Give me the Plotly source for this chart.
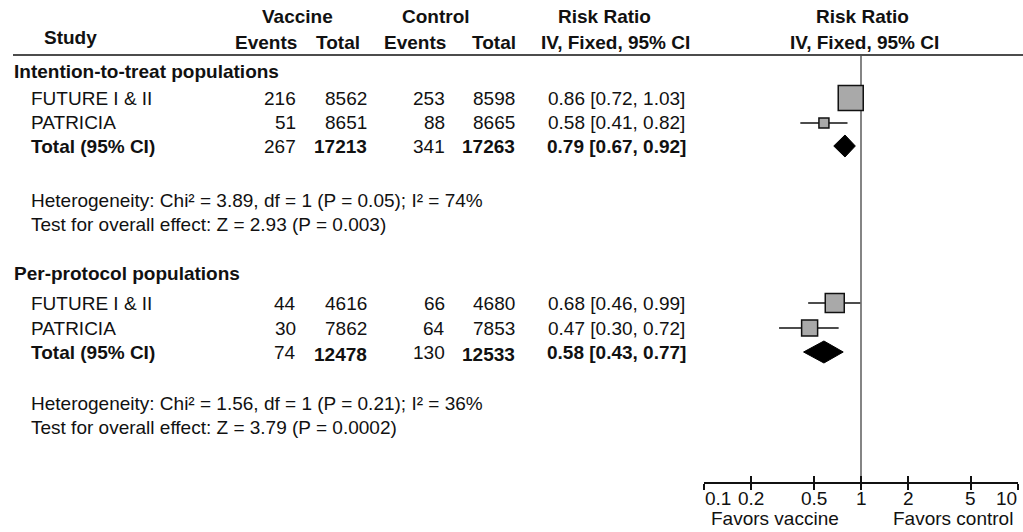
import math
import plotly.graph_objects as go

W, H = 1023, 532

# ---------------- data ----------------
studies = ["FUTURE I & II", "PATRICIA"]

itt_label = "Intention-to-treat populations"
itt_vac_events = [216, 51]
itt_vac_total = [8562, 8651]
itt_ctl_events = [253, 88]
itt_ctl_total = [8598, 8665]
itt_rr = [0.86, 0.58]
itt_lo = [0.72, 0.41]
itt_hi = [1.03, 0.82]
itt_sum_events = [267, 341]
itt_sum_total = [17213, 17263]
itt_sum_rr = [0.79, 0.67, 0.92]
itt_het = "Heterogeneity: Chi² = 3.89, df = 1 (P = 0.05); I² = 74%"
itt_test = "Test for overall effect: Z = 2.93 (P = 0.003)"

pp_label = "Per-protocol populations"
pp_vac_events = [44, 30]
pp_vac_total = [4616, 7862]
pp_ctl_events = [66, 64]
pp_ctl_total = [4680, 7853]
pp_rr = [0.68, 0.47]
pp_lo = [0.46, 0.30]
pp_hi = [0.99, 0.72]
pp_sum_events = [74, 130]
pp_sum_total = [12478, 12533]
pp_sum_rr = [0.58, 0.43, 0.77]
pp_het = "Heterogeneity: Chi² = 1.56, df = 1 (P = 0.21); I² = 36%"
pp_test = "Test for overall effect: Z = 3.79 (P = 0.0002)"

tick_vals = [0.1, 0.2, 0.5, 1, 2, 5, 10]
tick_text = ["0.1", "0.2", "0.5", "1", "2", "5", "10"]
favors_left = "Favors vaccine"
favors_right = "Favors control"

# ---------------- layout / style ----------------
FONT = "Liberation Sans, Arial, sans-serif"
FS = 19
TXT = "#111111"
X_SEC, X_NAME = 13, 30
X_VE, X_VT, X_CE, X_CT, X_RR = 297, 368, 446, 516, 616
AXIS_Y = 482
LINE_Y = 55
X0_PX, X1_PX = 704, 1018
TICKLAB_Y = 498
FAVORS_Y = 518
tick_anchors = ["left"] + ["center"] * 5 + ["right"]

groups = [
    dict(label=itt_label, ve=itt_vac_events, vt=itt_vac_total, ce=itt_ctl_events, ct=itt_ctl_total,
         rr=itt_rr, lo=itt_lo, hi=itt_hi, se=itt_sum_events, st=itt_sum_total, srr=itt_sum_rr,
         het=itt_het, test=itt_test,
         y_head=71, y_rows=[98, 123], y_tot=146, y_het=200, y_test=224, sizes=[25, 10], tot_dy=0),
    dict(label=pp_label, ve=pp_vac_events, vt=pp_vac_total, ce=pp_ctl_events, ct=pp_ctl_total,
         rr=pp_rr, lo=pp_lo, hi=pp_hi, se=pp_sum_events, st=pp_sum_total, srr=pp_sum_rr,
         het=pp_het, test=pp_test,
         y_head=273, y_rows=[303, 328], y_tot=352, y_het=403, y_test=427, sizes=[19, 16], tot_dy=2),
]

fig = go.Figure()


def ann(text, x, y, anchor="left", bold=False, size=FS, color=TXT, xref="paper"):
    fig.add_annotation(
        text=f"<b>{text}</b>" if bold else text,
        x=(x / W) if xref == "paper" else x, y=1 - y / H, xref=xref, yref="paper",
        xanchor=anchor, yanchor="middle", showarrow=False, borderpad=0,
        font=dict(family=FONT, size=size, color=color),
    )


# headers
ann("Vaccine", 297, 16, "center", True)
ann("Control", 436, 16, "center", True)
ann("Risk Ratio", 604, 16, "center", True)
ann("Risk Ratio", 862, 16, "center", True)
ann("Study", 70, 37, "center", True)
ann("Events", 298, 43, "right", True)
ann("Total", 361, 43, "right", True)
ann("Events", 447, 43, "right", True)
ann("Total", 517, 43, "right", True)
ann("IV, Fixed, 95% CI", 615, 43, "center", True)
ann("IV, Fixed, 95% CI", 864, 43, "center", True)

fig.add_shape(type="line", xref="paper", yref="paper",
              x0=X_SEC / W, x1=1.0, y0=1 - LINE_Y / H, y1=1 - LINE_Y / H,
              line=dict(color="#111111", width=1.6))

# vertical line of no effect
fig.add_trace(go.Scatter(x=[1, 1], y=[LINE_Y + 1, AXIS_Y], mode="lines",
                         line=dict(color="#333333", width=1.2), hoverinfo="skip", showlegend=False))

for g in groups:
    ann(g["label"], X_SEC, g["y_head"], "left", True)
    for i, name in enumerate(studies):
        y = g["y_rows"][i]
        ann(name, X_NAME, y)
        ann(str(g["ve"][i]), X_VE, y, "right")
        ann(str(g["vt"][i]), X_VT, y, "right")
        ann(str(g["ce"][i]), X_CE, y, "right")
        ann(str(g["ct"][i]), X_CT, y, "right")
        ann(f"{g['rr'][i]:.2f} [{g['lo'][i]:.2f}, {g['hi'][i]:.2f}]", X_RR, y, "center")
        # CI whisker
        fig.add_trace(go.Scatter(x=[g["lo"][i], g["hi"][i]], y=[y, y], mode="lines",
                                 line=dict(color="#111111", width=1.6),
                                 hoverinfo="skip", showlegend=False))
        # weighted square
        fig.add_trace(go.Scatter(x=[g["rr"][i]], y=[y], mode="markers",
                                 marker=dict(symbol="square", size=g["sizes"][i], color="#a9a9a9",
                                             line=dict(color="#111111", width=1.5)),
                                 hoverinfo="skip", showlegend=False))
    yt = g["y_tot"]
    ann("Total (95% CI)", X_NAME, yt, "left", True)
    ann(str(g["se"][0]), X_VE, yt, "right")
    ann(str(g["st"][0]), X_VT, yt + g["tot_dy"], "right", True)
    ann(str(g["se"][1]), X_CE, yt, "right")
    ann(str(g["st"][1]), X_CT, yt + g["tot_dy"], "right", True)
    m, lo, hi = g["srr"]
    ann(f"{m:.2f} [{lo:.2f}, {hi:.2f}]", X_RR, yt, "center", True)
    # diamond
    hh = 11
    fig.add_trace(go.Scatter(x=[lo, m, hi, m, lo], y=[yt, yt - hh, yt, yt + hh, yt],
                             mode="lines", fill="toself", fillcolor="#000000",
                             line=dict(color="#000000", width=1),
                             hoverinfo="skip", showlegend=False))
    ann(g["het"], X_NAME, g["y_het"])
    ann(g["test"], X_NAME, g["y_test"])

# tick labels placed through the log x scale
for v, t, a in zip(tick_vals, tick_text, tick_anchors):
    ann(t, math.log10(v), TICKLAB_Y, a, xref="x")

# favours labels
ann(favors_left, 775, FAVORS_Y, "center")
ann(favors_right, 953, FAVORS_Y, "center")

# invisible trace on overlay axis (for crossing ticks)
fig.add_trace(go.Scatter(x=[1], y=[AXIS_Y], xaxis="x2", yaxis="y", mode="markers",
                         marker=dict(opacity=0), hoverinfo="skip", showlegend=False))

pad = 0.002
axis_common = dict(type="log", range=[-1 - pad, 1 + pad], tickvals=tick_vals,
                   domain=[X0_PX / W, X1_PX / W], showgrid=False, zeroline=False,
                   tickcolor="#111111", tickwidth=1.5, ticklen=6, fixedrange=True,
                   showticklabels=False)

fig.update_layout(
    width=W, height=H,
    margin=dict(l=0, r=0, t=0, b=0),
    paper_bgcolor="white", plot_bgcolor="rgba(0,0,0,0)",
    showlegend=False,
    xaxis=dict(**axis_common, ticks="outside",
               showline=True, linecolor="#111111", linewidth=1.6, anchor="y"),
    xaxis2=dict(**axis_common, ticks="inside", showline=False,
                overlaying="x", anchor="y", side="bottom"),
    yaxis=dict(range=[AXIS_Y, 0], domain=[(H - AXIS_Y) / H, 1], visible=False,
               fixedrange=True),
)

fig.write_html("out.html", config={"displayModeBar": False},
               post_script="document.body.style.margin='0';document.body.style.overflow='hidden';")
